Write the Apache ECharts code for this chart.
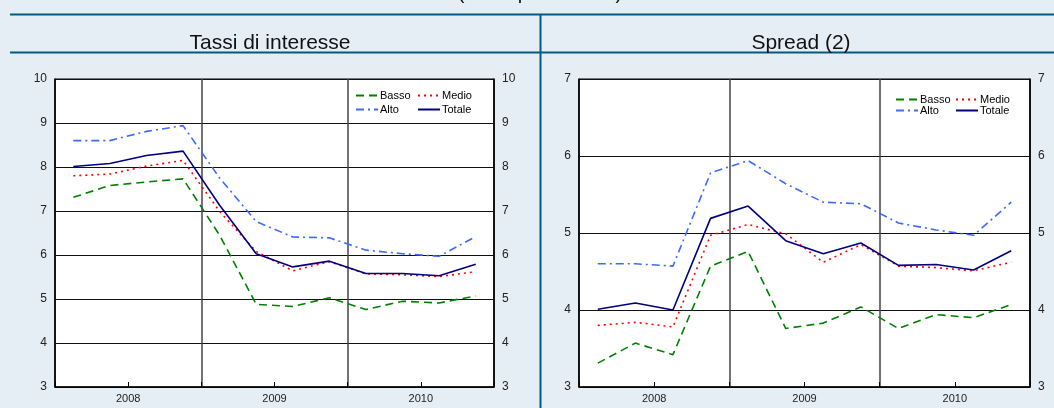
<!DOCTYPE html>
<html>
<head>
<meta charset="utf-8">
<script src="https://cdn.jsdelivr.net/npm/echarts@6/dist/echarts.min.js"></script>
<style>
html,body{margin:0;padding:0;background:#e5eef5;}
#c{width:1054px;height:408px;}
</style>
</head>
<body>
<div id="c"></div>
<script>
// ---- data ----
const quarters = ['I 2008','II 2008','III 2008','IV 2008','I 2009','II 2009','III 2009','IV 2009','I 2010','II 2010','III 2010','IV 2010'];
const years = ['2008','2009','2010'];
const seriesNames = ['Basso','Medio','Alto','Totale'];

// Tassi di interesse
const tassiBasso  = [7.31, 7.58, 7.66, 7.73, 6.45, 4.88, 4.83, 5.03, 4.76, 4.95, 4.91, 5.07];
const tassiMedio  = [7.80, 7.84, 8.02, 8.15, 6.99, 6.08, 5.64, 5.85, 5.57, 5.55, 5.51, 5.62];
const tassiAlto   = [8.60, 8.60, 8.81, 8.94, 7.75, 6.76, 6.41, 6.39, 6.11, 6.03, 5.97, 6.42];
const tassiTotale = [8.01, 8.08, 8.26, 8.36, 7.13, 6.03, 5.73, 5.86, 5.58, 5.58, 5.53, 5.79];

// Spread (2)
const spreadBasso  = [3.31, 3.57, 3.42, 4.57, 4.76, 3.76, 3.83, 4.04, 3.76, 3.94, 3.90, 4.07];
const spreadMedio  = [3.80, 3.84, 3.78, 4.97, 5.11, 4.99, 4.62, 4.85, 4.57, 4.55, 4.51, 4.62];
const spreadAlto   = [4.60, 4.60, 4.57, 5.78, 5.94, 5.64, 5.40, 5.38, 5.13, 5.04, 4.97, 5.40];
const spreadTotale = [4.01, 4.09, 4.00, 5.19, 5.35, 4.90, 4.73, 4.87, 4.58, 4.59, 4.52, 4.77];

const titles = ['Tassi di interesse', 'Spread (2)'];
const topNote = '(valori percentuali)';

// ---- styles ----
const FONT = '"Liberation Sans", Arial, sans-serif';
const styles = {
  Basso:  {color:'#008000', type:[8,5]},
  Medio:  {color:'#ff0000', type:[2,4]},
  Alto:   {color:'#3d6bff', type:[8,4,2,4]},
  Totale: {color:'#000080', type:'solid'}
};
const frame = '#005b82';

function mkSeries(name, data, gi){
  return {
    name, type:'line', data, xAxisIndex: gi*2, yAxisIndex: gi*2,
    symbol:'none', showSymbol:false, animation:false, silent:true,
    lineStyle:{color:styles[name].color, type:styles[name].type, width:1.6},
    itemStyle:{color:styles[name].color}
  };
}
function xAxes(gi){
  return [
    {gridIndex:gi, type:'category', data:quarters, boundaryGap:true, position:'bottom',
     axisLine:{show:true, lineStyle:{color:'#000', width:1.5}},
     axisTick:{show:true, inside:true, length:5, lineStyle:{color:'#000'}},
     axisLabel:{show:false}, splitLine:{show:false}},
    {gridIndex:gi, type:'category', data:years, boundaryGap:true, position:'bottom',
     axisLine:{show:false}, axisTick:{show:false},
     axisLabel:{show:true, fontSize:11, color:'#222', fontFamily:FONT, margin:6},
     splitLine:{show:true, lineStyle:{color:'#444', width:1.5}}}
  ];
}
function yAxes(gi, min, max){
  const lab = {fontSize:12, color:'#222', fontFamily:FONT, margin:8};
  return [
    {gridIndex:gi, type:'value', min, max, interval:1, position:'left',
     axisLine:{show:true, lineStyle:{color:'#000', width:1.5}}, axisTick:{show:false},
     axisLabel:lab, splitLine:{show:true, lineStyle:{color:'#111', width:1}}},
    {gridIndex:gi, type:'value', min, max, interval:1, position:'right',
     axisLine:{show:true, lineStyle:{color:'#000', width:1.5}}, axisTick:{show:false},
     axisLabel:lab, splitLine:{show:false}}
  ];
}
function legends(leftA, leftB, top, gap){
  const common = {orient:'vertical', top, itemWidth:22, itemHeight:10, itemGap:gap,
    itemStyle:{opacity:0}, padding:0,
    textStyle:{fontSize:11, color:'#000', fontFamily:FONT, padding:[0,0,0,-3]},
    selectedMode:false};
  return [
    Object.assign({}, common, {left:leftA, data:['Basso','Alto']}),
    Object.assign({}, common, {left:leftB, data:['Medio','Totale']})
  ];
}

const chart = echarts.init(document.getElementById('c'), null, {renderer:'canvas'});
chart.setOption({
  animation:false,
  backgroundColor:'#e5eef5',
  title:[
    {text:titles[0], left:265, top:28, textAlign:'center', textStyle:{fontSize:21, fontWeight:'normal', color:'#111', fontFamily:FONT}},
    {text:titles[1], left:796, top:28, textAlign:'center', textStyle:{fontSize:21, fontWeight:'normal', color:'#111', fontFamily:FONT}}
  ],
  legend: legends(355, 417, 90, 3).concat(legends(895, 955, 94, 0)),
  grid:[
    {left:55, top:79, width:439, height:308, show:true, backgroundColor:'#fff', borderColor:'#000', borderWidth:1},
    {left:579, top:79, width:451, height:308, show:true, backgroundColor:'#fff', borderColor:'#000', borderWidth:1}
  ],
  xAxis: xAxes(0).concat(xAxes(1)),
  yAxis: yAxes(0,3,10).concat(yAxes(1,3,7)),
  series:[
    mkSeries('Basso', tassiBasso, 0),
    mkSeries('Medio', tassiMedio, 0),
    mkSeries('Alto', tassiAlto, 0),
    mkSeries('Totale', tassiTotale, 0),
    mkSeries('Basso', spreadBasso, 1),
    mkSeries('Medio', spreadMedio, 1),
    mkSeries('Alto', spreadAlto, 1),
    mkSeries('Totale', spreadTotale, 1)
  ],
  graphic:[
    {type:'text', silent:true, style:{x:540, y:3, text:topNote, textAlign:'center', textVerticalAlign:'bottom', fontSize:20, fill:'#111', fontFamily:FONT}},
    {type:'line', silent:true, shape:{x1:10, y1:14.5, x2:1054, y2:14.5}, style:{stroke:frame, lineWidth:2}},
    {type:'line', silent:true, shape:{x1:10, y1:52.5, x2:1054, y2:52.5}, style:{stroke:frame, lineWidth:2}},
    {type:'line', silent:true, shape:{x1:540.5, y1:14, x2:540.5, y2:408}, style:{stroke:frame, lineWidth:2}}
  ]
});
</script>
</body>
</html>
